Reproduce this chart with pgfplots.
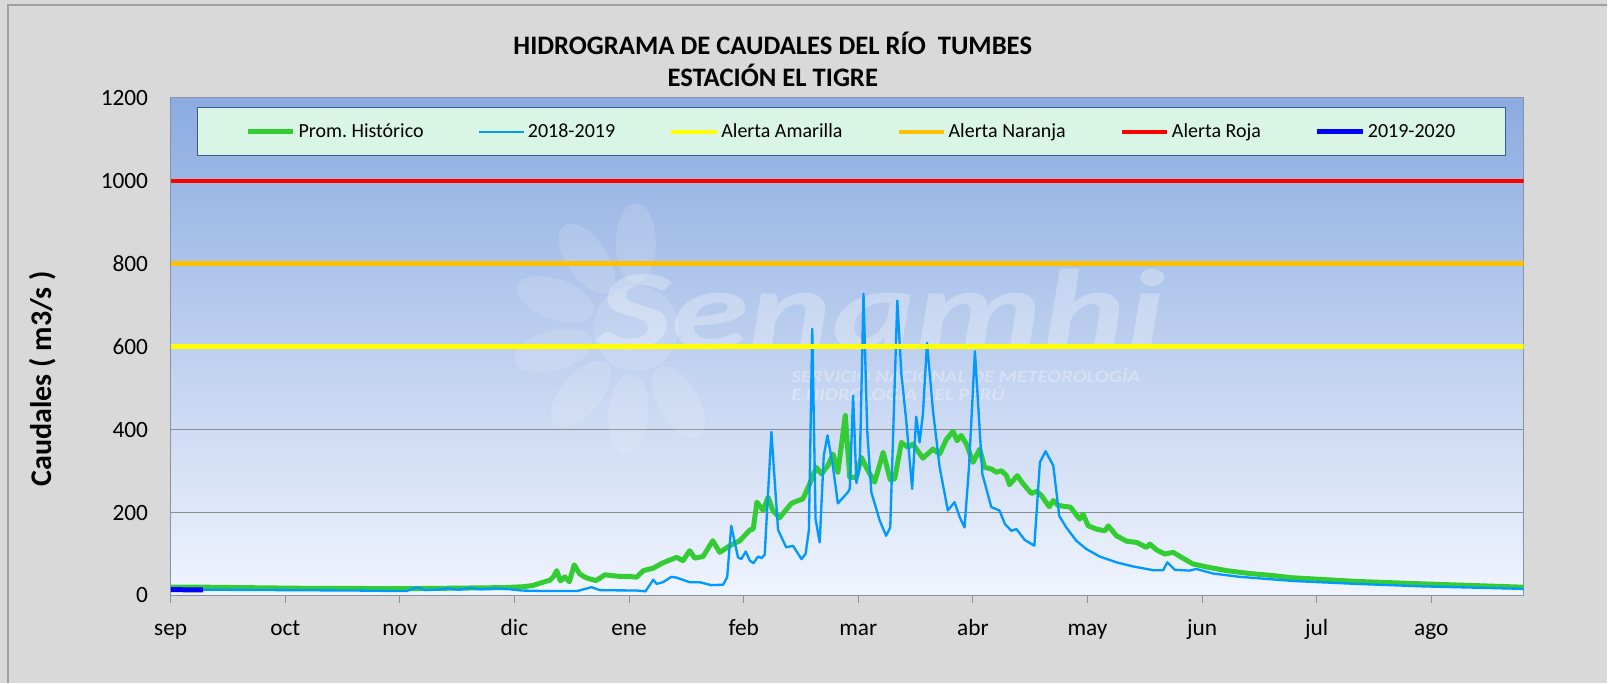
\documentclass[border=0pt]{standalone}
\usepackage{fontspec}
\setmainfont{Carlito}
\usepackage{pgfplots}
\pgfplotsset{compat=1.18}
\definecolor{bggray}{RGB}{217,217,217}
\definecolor{prom}{RGB}{51,204,51}
\definecolor{sA}{RGB}{0,153,255}
\definecolor{amar}{RGB}{255,255,0}
\definecolor{nara}{RGB}{255,192,0}
\definecolor{roja}{RGB}{255,0,0}
\definecolor{sB}{RGB}{0,0,255}
\definecolor{legfill}{RGB}{216,245,230}
\definecolor{legdraw}{RGB}{56,93,138}
\definecolor{bgtop}{RGB}{139,171,225}
\definecolor{bgbot}{RGB}{240,244,253}
\definecolor{axgray}{RGB}{134,146,166}
\begin{document}
\frenchspacing
\begin{tikzpicture}
\fill[bggray] (0pt,0pt) rectangle (1206pt,-512.25pt);
\draw[color={rgb,255:red,160;green,160;blue,160}, line width=0.8pt] (6pt,-512.25pt) -- (6pt,-3.75pt) -- (1206pt,-3.75pt);
\node[font=\bfseries\fontsize{20}{24}\selectfont] at (579.75pt,-32.25pt) {HIDROGRAMA DE CAUDALES DEL RÍO\ \ TUMBES};
\node[font=\bfseries\fontsize{20}{24}\selectfont] at (579.75pt,-56.25pt) {ESTACIÓN EL TIGRE};
\node[font=\bfseries\fontsize{22.5}{26}\selectfont, rotate=90] at (32.25pt,-284.25pt) {Caudales ( m3/s )};
\begin{axis}[
  at={(128.025pt,-446.775pt)}, anchor=south west,
  scale only axis, width=1014.975pt, height=373.5pt,
  xmin=0.46, xmax=364.7, ymin=0, ymax=1200,
  xtick={0.46,31.32,62.17,93.03,123.89,154.75,185.6,216.46,247.32,278.18,309.03,339.89},
  xticklabels={sep,oct,nov,dic,ene,feb,mar,abr,may,jun,jul,ago},
  ytick={0,200,400,600,800,1000,1200},
  /pgf/number format/assume math mode=true,
  /pgf/number format/1000 sep={},
  tick label style={font=\fontsize{17.5}{20}\selectfont},
  xticklabel style={anchor=base, yshift=-25pt},
  yticklabel style={anchor=east, inner sep=0pt, xshift=-11.5pt},
  xtick pos=bottom, tick align=outside, major tick length=5.25pt,
  xtick style={color=axgray, line width=0.75pt},
  ytick style={draw=none},
  ymajorgrids, grid style={color={rgb,255:red,140;green,140;blue,140}, line width=0.75pt},
  axis line style={color=axgray, line width=0.75pt},
  axis background/.style={top color=bgtop, bottom color=bgbot},
  legend columns=6,
  legend style={at={(axis description cs:0.0194,0.981)}, anchor=north west,
    fill=legfill, draw=legdraw, line width=1pt,
    font=\fontsize{15}{18}\selectfont,
    inner xsep=36pt, inner ysep=10pt,
    nodes={inner sep=2pt},
    /tikz/every even column/.append style={column sep=38.5pt}},
  legend image code/.code={\draw[#1] (0pt,0pt) -- (34pt,0pt);},
]
% faint watermark (logo petals and text)
\fill[white, opacity=0.13] (axis cs:125.7,643.7) circle[radius=32pt];
\fill[white, opacity=0.13, shift={(axis cs:125.7,643.7)}, rotate=90] (64pt,0pt) ellipse[x radius=30pt, y radius=15pt];
\fill[white, opacity=0.13, shift={(axis cs:125.7,643.7)}, rotate=125] (64pt,0pt) ellipse[x radius=30pt, y radius=15pt];
\fill[white, opacity=0.13, shift={(axis cs:125.7,643.7)}, rotate=160] (64pt,0pt) ellipse[x radius=30pt, y radius=15pt];
\fill[white, opacity=0.13, shift={(axis cs:125.7,643.7)}, rotate=195] (64pt,0pt) ellipse[x radius=30pt, y radius=15pt];
\fill[white, opacity=0.13, shift={(axis cs:125.7,643.7)}, rotate=230] (64pt,0pt) ellipse[x radius=30pt, y radius=15pt];
\fill[white, opacity=0.13, shift={(axis cs:125.7,643.7)}, rotate=265] (64pt,0pt) ellipse[x radius=30pt, y radius=15pt];
\fill[white, opacity=0.13, shift={(axis cs:125.7,643.7)}, rotate=300] (64pt,0pt) ellipse[x radius=30pt, y radius=15pt];
\node[font=\bfseries\itshape\fontsize{86}{90}\selectfont, text=white, opacity=0.28, xscale=1.38, inner sep=0pt] at (axis cs:191.8,690) {Senamhi};
\node[font=\bfseries\itshape\fontsize{13}{15}\selectfont, text=white, opacity=0.3, anchor=west, inner sep=0pt, xscale=1.2] at (axis cs:167.5,532) {SERVICIO NACIONAL DE METEOROLOGÍA};
\node[font=\bfseries\itshape\fontsize{13}{15}\selectfont, text=white, opacity=0.3, anchor=west, inner sep=0pt, xscale=1.2] at (axis cs:167.5,487) {E HIDROLOGÍA DEL PERÚ};
\addplot[prom, line width=3.75pt, line join=round] coordinates {
(0.5,20) (10,20) (20,19) (30,18) (40,17) (50,17) (60,16.5) (70,17) (80,18) (90,19) (95,21) (98,24) (100,30) (102.6,37) (103.5,45) (104.4,60) (105.4,35) (106.6,45) (107.8,33) (109.1,74) (110.6,52) (112,44) (113.3,40) (115,36) (117.4,50) (119.2,48) (121.4,46) (124,46) (125.9,44) (127.7,60) (130.4,66) (132.6,77) (134.4,84) (136.7,92) (138.4,84) (140.2,108) (141.6,90) (143.8,94) (146.4,132) (148.3,104) (151,120) (153.7,132) (156.4,158) (157.3,160) (158.3,225) (160,205) (161.3,237) (162.6,205) (164.4,187) (166,205) (167.6,222) (168.9,227) (170.7,233) (172.5,269) (174.3,309) (175.7,293) (177.4,313) (178.8,341) (180.1,297) (182.1,434) (183.3,285) (185.1,285) (186.4,333) (188.2,301) (190,273) (192.3,345) (194.2,279) (195.4,281) (197.2,369) (199,357) (200.3,365) (203,331) (205.7,353) (207.5,341) (209.3,376) (211.1,396) (212.2,373) (213.3,386) (214.7,365) (216.5,321) (218.3,353) (219.6,309) (221.4,305) (222.8,297) (224.1,301) (225.5,289) (226.3,267) (228.4,289) (230,269) (232.2,246) (233.6,251) (234.9,241) (237,214) (238.1,229) (239.4,217) (242.7,213) (245.2,184) (246.1,196) (247.5,168) (249.7,160) (252,156) (252.9,168) (255.1,144) (257.8,131) (260.5,128) (263.2,116) (264.1,124) (265.9,110) (268.1,100) (270.4,104) (272.6,92) (275.7,76) (279.3,69) (284.7,60) (291,53) (297.3,48) (302,43) (319.6,34) (337.6,28) (364.7,20)
};
\addlegendentry{Prom. Histórico}
\addplot[sA, line width=1.75pt, line join=round] coordinates {
(0.5,14) (10,14) (20,13.5) (30,13) (40,12.5) (50,12) (60,11) (64,11) (66.7,20) (69,13) (72,14) (75,17) (78,14) (81,18) (84,15) (88,17) (91.8,15) (95,12) (100,11) (105,11) (110,11) (113.8,20) (116,13) (120,12.5) (126,12) (128.3,10) (130.4,38) (131.3,28) (133,32) (135.3,45) (136.7,43) (140.2,32) (142.9,32) (146,25) (149.2,26) (150.3,44) (151.4,168) (153.2,92) (154.1,88) (155.3,106) (156.4,84) (157.4,78) (158.6,94) (159.5,90) (160.4,98) (162.2,394) (164,158) (166.2,116) (168,120) (170.3,88) (171.4,100) (172.3,158) (173.2,643) (174.1,184) (175.2,128) (176.3,337) (177.3,386) (178.8,309) (180.1,222) (182.8,249) (183.3,257) (184.2,482) (185.1,271) (186,313) (187,727) (188,398) (189.1,249) (191.4,180) (193.1,144) (194.2,164) (196.1,711) (197.2,534) (198.5,422) (200.1,257) (201.2,431) (202.1,369) (203,438) (204.1,609) (205.7,446) (207.5,309) (209.7,205) (211.5,225) (212.9,189) (214.2,164) (215.4,309) (217,589) (219,293) (221.4,213) (223.6,205) (225.1,172) (226.8,156) (228.2,160) (230.4,134) (233,120) (234.5,321) (236,348) (238.1,313) (239.7,192) (241.6,164) (244.3,132) (247,112) (250.6,94) (255.1,80) (259.6,70) (265,61) (267.7,61) (268.8,80) (270.8,62) (274.8,60) (276.6,64) (281.1,53) (288.3,45) (295.5,40) (302.7,35) (319.6,28) (337.6,22) (364.7,16)
};
\addlegendentry{2018-2019}
\addplot[amar, line width=3.2pt] coordinates {(0.46,600) (364.7,600)};
\addlegendentry{Alerta Amarilla}
\addplot[nara, line width=3.2pt] coordinates {(0.46,800) (364.7,800)};
\addlegendentry{Alerta Naranja}
\addplot[roja, line width=3.2pt] coordinates {(0.46,1000) (364.7,1000)};
\addlegendentry{Alerta Roja}
\addplot[sB, line width=3.75pt] coordinates {(0.5,14) (3,14) (6,13.5) (9.2,13.5)};
\addlegendentry{2019-2020}
\end{axis}
\end{tikzpicture}
\end{document}
